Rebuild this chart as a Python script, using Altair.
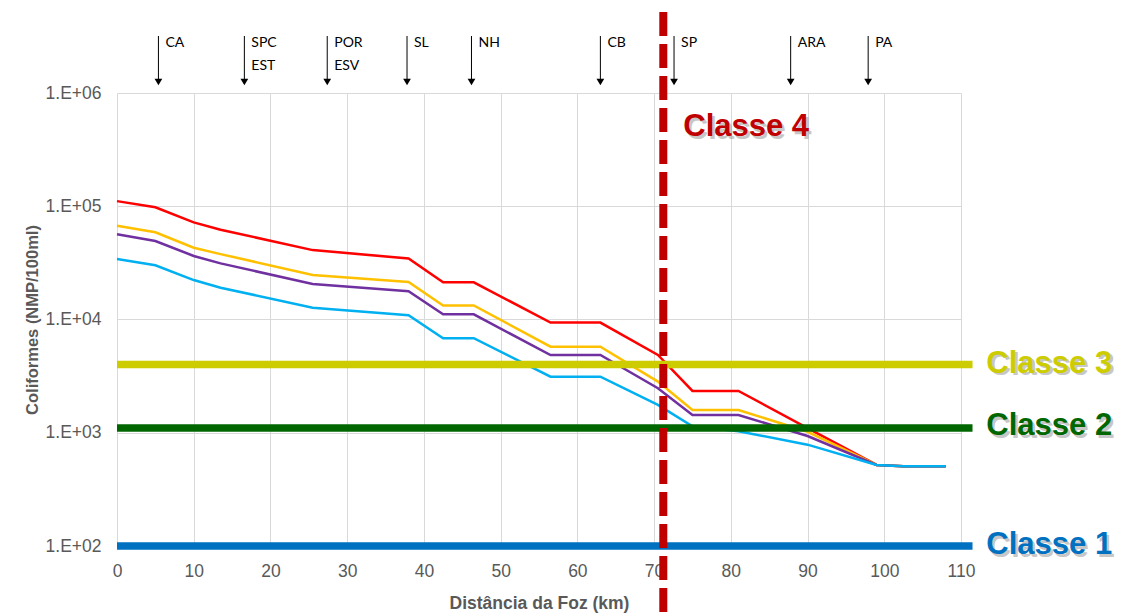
import altair as alt
import pandas as pd

# Distance from the river mouth (km) at each sampling point
km = [0, 5, 10, 13.5, 25.5, 38, 42.5, 46.5, 56.5, 63, 70.5, 75, 81, 90, 99, 102.5, 108]

# Coliform concentration (NMP/100ml) for each scenario
serie_vermelha = [111000, 98000, 72000, 62000, 41000, 34600, 21300, 21300, 9400, 9400, 4860, 2340, 2340, 1100, 520, 505, 505]
serie_laranja = [67300, 58900, 43000, 37800, 24700, 21400, 13300, 13300, 5750, 5750, 2830, 1590, 1590, 1020, 520, 505, 505]
serie_roxa = [56600, 49300, 36400, 31300, 20600, 17800, 11100, 11100, 4860, 4860, 2470, 1435, 1435, 936, 520, 505, 505]
serie_azul = [34200, 30100, 22300, 19100, 12700, 10900, 6830, 6830, 3130, 3130, 1760, 1140, 1030, 785, 520, 505, 505]

serie_nomes = ["vermelha", "laranja", "roxa", "azul"]
serie_valores = [serie_vermelha, serie_laranja, serie_roxa, serie_azul]
serie_cores = ["#FF0000", "#FFC000", "#7030A0", "#00B0F0"]

# Water-quality class limits
classe_nomes = ["Classe 3", "Classe 2", "Classe 1"]
classe_limites = [4000, 1100, 100]
classe_cores = ["#CCCC00", "#006600", "#0070C0"]

# Discharge / landmark stations along the river
estacao_km = [5.4, 16.6, 27.4, 37.8, 46.2, 63.0, 72.6, 87.8, 97.9]
estacao_linha1 = ["CA", "SPC", "POR", "SL", "NH", "CB", "SP", "ARA", "PA"]
estacao_linha2 = ["", "EST", "ESV", "", "", "", "", "", ""]

# Boundary of the class 4 stretch
limite_classe4_km = 71.2

W, H = 844, 453
FONT = "Liberation Sans"
GRAY = "#595959"

x_scale = alt.Scale(domain=[0, 110], nice=False, zero=False)
y_scale = alt.Scale(type="log", domain=[100, 1e6], nice=False)

x_axis = alt.Axis(
    values=list(range(0, 111, 10)), title="Distância da Foz (km)",
    grid=True, gridColor="#D9D9D9", ticks=False, domain=False, labelFlush=False,
    labelFontSize=17.5, labelColor=GRAY, labelFont=FONT, labelPadding=16,
    titleFontSize=17.5, titleColor=GRAY, titleFont=FONT, titleFontWeight="bold",
    titlePadding=15,
)
y_axis = alt.Axis(
    values=[100, 1000, 10000, 100000, 1000000], title="Coliformes (NMP/100ml)",
    labelExpr="'1.E+0' + format(log(datum.value) / LN10, '.0f')",
    grid=True, gridColor="#D9D9D9", ticks=False, domain=False, labelFlush=False,
    labelFontSize=17.5, labelColor=GRAY, labelFont=FONT, labelPadding=16,
    titleFontSize=16.5, titleColor=GRAY, titleFont=FONT, titleFontWeight="bold",
    titlePadding=5,
)


def X(field):
    return alt.X(field, type="quantitative", scale=x_scale, axis=x_axis)


def Y(field):
    return alt.Y(field, type="quantitative", scale=y_scale, axis=y_axis)


layers = []

# Scenario lines
for nome, valores, cor in zip(serie_nomes, serie_valores, serie_cores):
    df = pd.DataFrame({"km": km, "v": valores})
    layers.append(
        alt.Chart(df).mark_line(color=cor, strokeWidth=2.5).encode(x=X("km"), y=Y("v"))
    )

# Class limit lines
classes = pd.DataFrame({"nome": classe_nomes, "v": classe_limites, "cor": classe_cores,
                        "km": [0] * 3, "km2": [111.5] * 3, "km_lab": [113.3] * 3})
layers.append(
    alt.Chart(classes).mark_rule(strokeWidth=7.5, strokeCap="butt").encode(
        x=X("km"), x2="km2:Q", y=Y("v"),
        color=alt.Color("cor:N", scale=None),
    )
)

# Class labels with a soft drop shadow
label_dy = [-1, -2, -1]
for shadow in (True, False):
    for j in range(3):
        sub = classes.iloc[[j]]
        layers.append(
            alt.Chart(sub).mark_text(
                align="left", baseline="middle", font=FONT, fontWeight="bold", fontSize=31,
                dx=2.5 if shadow else 0, dy=label_dy[j] + (2.5 if shadow else 0),
                color="#9A9A9A" if shadow else classe_cores[j],
                opacity=0.55 if shadow else 1,
            ).encode(x=X("km_lab"), y=Y("v"), text="nome:N")
        )

# Class 4 label
c4 = pd.DataFrame({"km": [73.8], "v": [500000], "t": ["Classe 4"]})
for shadow in (True, False):
    layers.append(
        alt.Chart(c4).mark_text(
            align="left", baseline="middle", font=FONT, fontWeight="bold", fontSize=31,
            dx=2.5 if shadow else 0, dy=2.5 if shadow else 0,
            color="#9A9A9A" if shadow else "#C00000", opacity=0.55 if shadow else 1,
        ).encode(x=X("km"), y=Y("v"), text="t:N")
    )

# Station arrows above the plot
est = pd.DataFrame({"km": estacao_km, "l1": estacao_linha1, "l2": estacao_linha2})
layers.append(
    alt.Chart(est).mark_rule(color="#000000", strokeWidth=1).encode(
        x=X("km"), y=alt.value(-57), y2=alt.value(-14),
    )
)
layers.append(
    alt.Chart(est).mark_point(shape="triangle-down", filled=True, color="#000000",
                              size=60, opacity=1).encode(
        x=X("km"), y=alt.value(-11),
    )
)
layers.append(
    alt.Chart(est).mark_text(align="left", baseline="middle", font="Lato", fontSize=14,
                             color="#000000", dx=7).encode(
        x=X("km"), y=alt.value(-50), text="l1:N",
    )
)
layers.append(
    alt.Chart(est).transform_filter("datum.l2 != ''").mark_text(
        align="left", baseline="middle", font="Lato", fontSize=14, color="#000000", dx=7
    ).encode(
        x=X("km"), y=alt.value(-27), text="l2:N",
    )
)

# Dashed boundary of the class 4 stretch
lim = pd.DataFrame({"km": [limite_classe4_km]})
layers.append(
    alt.Chart(lim).mark_rule(color="#C00000", strokeWidth=8, strokeDash=[24, 8],
                             strokeCap="butt").encode(
        x=X("km"), y=alt.value(-81), y2=alt.value(522),
    )
)

chart = alt.layer(*layers).properties(
    width=W, height=H,
    autosize=alt.AutoSizeParams(type="none"),
    padding={"left": 117, "top": 93, "right": 161, "bottom": 69},
    background="#FFFFFF",
).configure_view(stroke=None)

chart.save("out.html", embed_options={"renderer": "svg", "actions": False})
